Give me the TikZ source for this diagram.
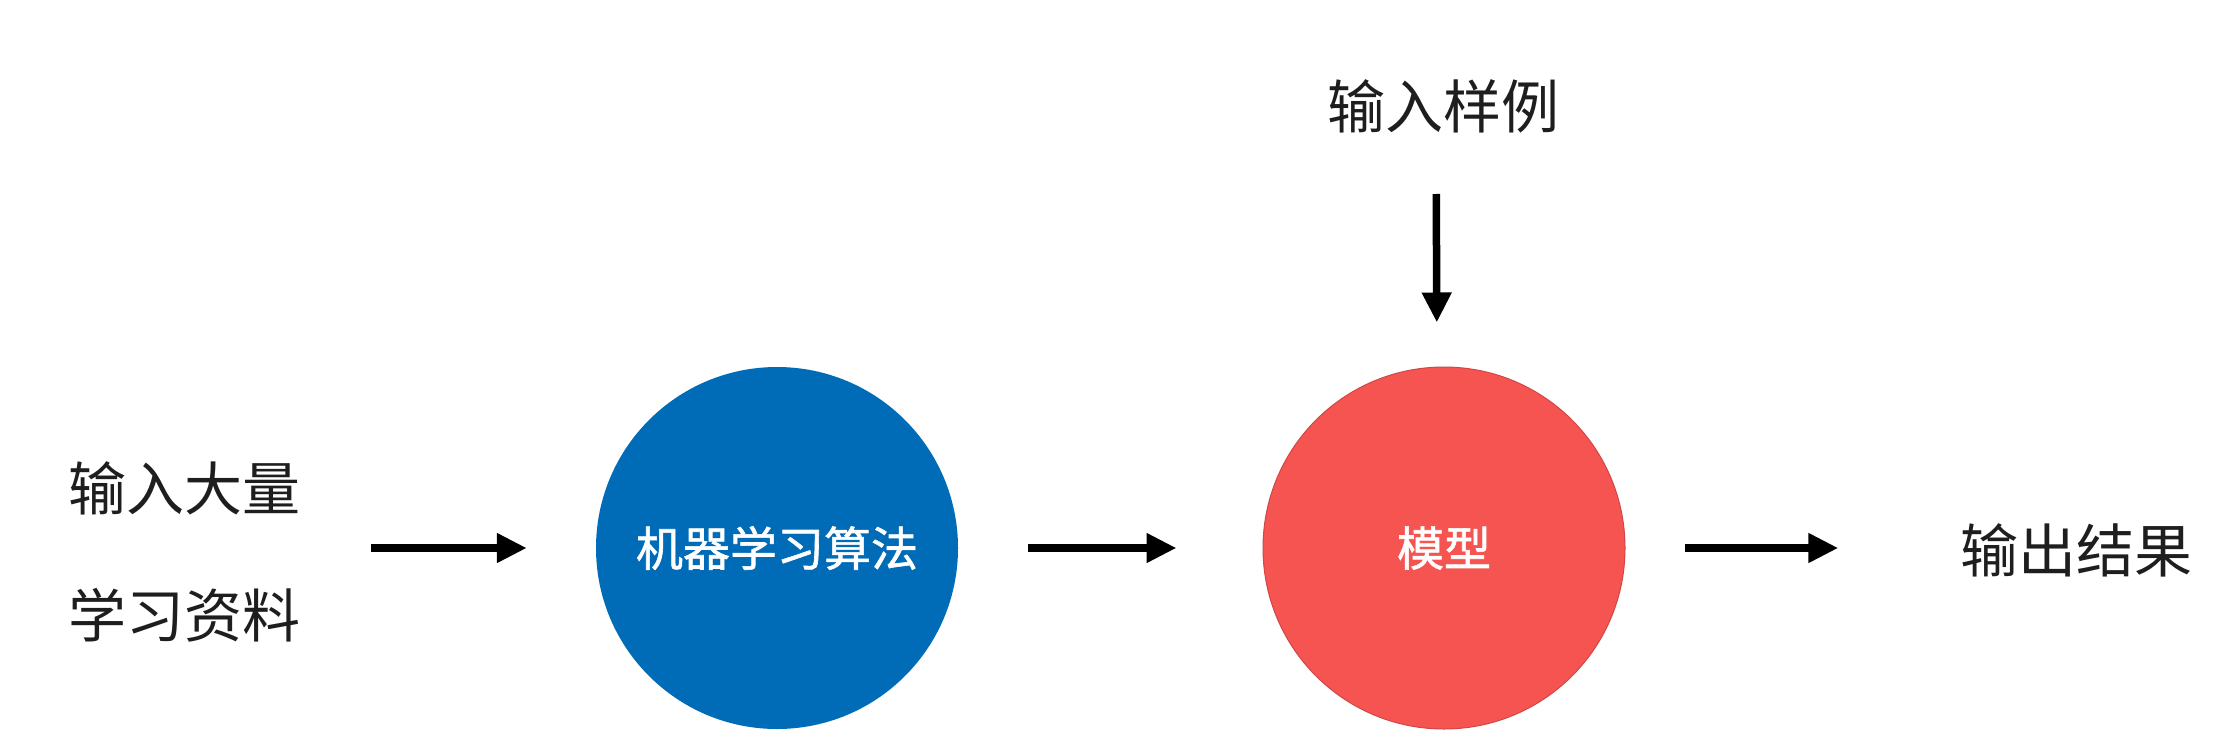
\documentclass[tikz,border=0pt]{standalone}
\usepackage{fontspec}
\setmainfont{Noto Sans CJK SC}
\newfontfamily\semibold[FakeBold=1.3]{Noto Sans CJK SC}
\usetikzlibrary{arrows.meta}
\definecolor{algoblue}{RGB}{0,107,183}
\definecolor{modelred}{RGB}{245,84,81}
\definecolor{txt}{RGB}{30,30,30}
\begin{document}
\begin{tikzpicture}[x=1pt,y=-1pt,
  lbl/.style={inner sep=0pt,text=txt,font=\fontsize{58}{127}\selectfont},
  ball/.style={circle,minimum size=362pt,inner sep=0pt,text=white,font=\fontsize{47}{56}\selectfont\semibold},
  arr/.style={line width=7.5pt,-{Triangle[length=30pt,width=28pt]}}]
\useasboundingbox (0,0) rectangle (2226,734);
\node[lbl,align=center] (src) at (184.5,551.5) {输入大量\\学习资料};
\node[ball,fill=algoblue] (algo) at (777,548) {机器学习算法};
\node[ball,fill=modelred,draw=modelred!85!black,line width=1pt] (model) at (1444,548) {模型};
\node[lbl] (sample) at (1443,106) {输入样例};
\node[lbl] (out) at (2076.5,550) {输出结果};
\draw[arr,shorten <=70pt,shorten >=69pt] (src.east |- algo.west) -- (algo.west);
\draw[arr,shorten <=70pt,shorten >=86pt] (algo.east) -- (model.west);
\draw[arr,shorten <=59pt,shorten >=122pt] (model.east) -- (out.west |- model.east);
\draw[arr,shorten <=61pt,shorten >=44pt] ([xshift=-7pt]sample.south) -- ([xshift=-7pt]model.north);
\end{tikzpicture}
\end{document}
